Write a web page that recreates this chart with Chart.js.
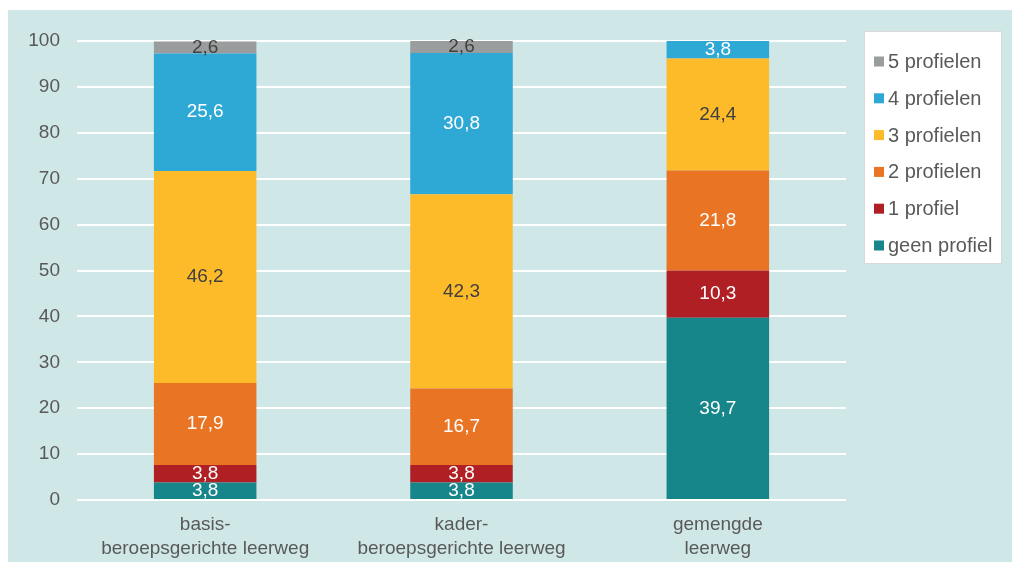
<!DOCTYPE html>
<html>
<head>
<meta charset="utf-8">
<script src="https://cdn.jsdelivr.net/npm/chart.js@4"></script>
<style>
  body { margin: 0; background: #fff; }
  #wrap { position: absolute; left: 8px; top: 10px; width: 1004px; height: 552px; background: #d0e7e7; }
</style>
</head>
<body>
<div id="wrap"><canvas id="chart" width="1004" height="552"></canvas></div>
<script>
const categories = [['basis-', 'beroepsgerichte leerweg'], ['kader-', 'beroepsgerichte leerweg'], ['gemengde', 'leerweg']];
const geenProfiel = [3.8, 3.8, 39.7];
const eenProfiel = [3.8, 3.8, 10.3];
const tweeProfielen = [17.9, 16.7, 21.8];
const drieProfielen = [46.2, 42.3, 24.4];
const vierProfielen = [25.6, 30.8, 3.8];
const vijfProfielen = [2.6, 2.6, 0];
const yTicks = [0, 10, 20, 30, 40, 50, 60, 70, 80, 90, 100];

const textColor = '#595959';
const family = 'Liberation Sans, Arial, sans-serif';
const font = { family: family, size: 19 };

// labels in the middle of each segment
const segmentLabels = {
  id: 'segmentLabels',
  afterDatasetsDraw(chart) {
    const c = chart.ctx;
    c.save();
    c.font = font.size + 'px ' + family;
    c.textAlign = 'center';
    c.textBaseline = 'middle';
    chart.data.datasets.forEach((ds, i) => {
      chart.getDatasetMeta(i).data.forEach((bar, j) => {
        const v = ds.data[j];
        if (!v) return;
        c.fillStyle = ds.labelColor;
        c.fillText(v.toFixed(1).replace('.', ','), bar.x, (bar.y + bar.base) / 2);
      });
    });
    c.restore();
  }
};

// legend drawn in a white box, top series first
const boxLegend = {
  id: 'boxLegend',
  afterDraw(chart) {
    const c = chart.ctx;
    const x = 856, y = 21, w = 138, h = 233;
    c.save();
    c.fillStyle = '#fff';
    c.fillRect(x, y, w, h);
    c.strokeStyle = '#d9d9d9';
    c.lineWidth = 1;
    c.strokeRect(x + 0.5, y + 0.5, w - 1, h - 1);
    c.font = '20px ' + family;
    c.textBaseline = 'middle';
    const sets = chart.data.datasets.slice().reverse();
    sets.forEach((ds, k) => {
      const cy = y + 30.5 + k * 36.8;
      c.fillStyle = ds.backgroundColor;
      c.fillRect(x + 10, cy - 5, 10, 10);
      c.fillStyle = textColor;
      c.fillText(ds.label, x + 24, cy + 1);
    });
    c.restore();
  }
};

new Chart(document.getElementById('chart'), {
  type: 'bar',
  data: {
    labels: categories,
    datasets: [
      { label: 'geen profiel', data: geenProfiel, backgroundColor: '#17868a', labelColor: '#fff' },
      { label: '1 profiel', data: eenProfiel, backgroundColor: '#b01f24', labelColor: '#fff' },
      { label: '2 profielen', data: tweeProfielen, backgroundColor: '#e87424', labelColor: '#fff' },
      { label: '3 profielen', data: drieProfielen, backgroundColor: '#fdbb2a', labelColor: '#404040' },
      { label: '4 profielen', data: vierProfielen, backgroundColor: '#2ea8d5', labelColor: '#fff' },
      { label: '5 profielen', data: vijfProfielen, backgroundColor: '#9a9d9d', labelColor: '#404040' }
    ]
  },
  options: {
    responsive: false,
    animation: false,
    categoryPercentage: 1,
    barPercentage: 0.4,
    layout: { padding: { top: 31, right: 166, left: 0, bottom: 0 } },
    plugins: { legend: { display: false }, tooltip: { enabled: false } },
    scales: {
      x: {
        stacked: true,
        grid: { display: false, drawTicks: false },
        border: { display: false },
        ticks: { color: textColor, font: { ...font, lineHeight: 1.3 }, padding: 12, maxRotation: 0 },
        afterFit(scale) { scale.height = 62; }
      },
      y: {
        stacked: true,
        min: 0,
        max: 100,
        afterBuildTicks(scale) { scale.ticks = yTicks.map(v => ({ value: v })); },
        grid: { color: '#fff', lineWidth: 2, drawTicks: false },
        border: { display: false },
        ticks: { color: textColor, font: font, padding: 17 },
        afterFit(scale) { scale.width = 69; }
      }
    }
  },
  plugins: [segmentLabels, boxLegend]
});
</script>
</body>
</html>
